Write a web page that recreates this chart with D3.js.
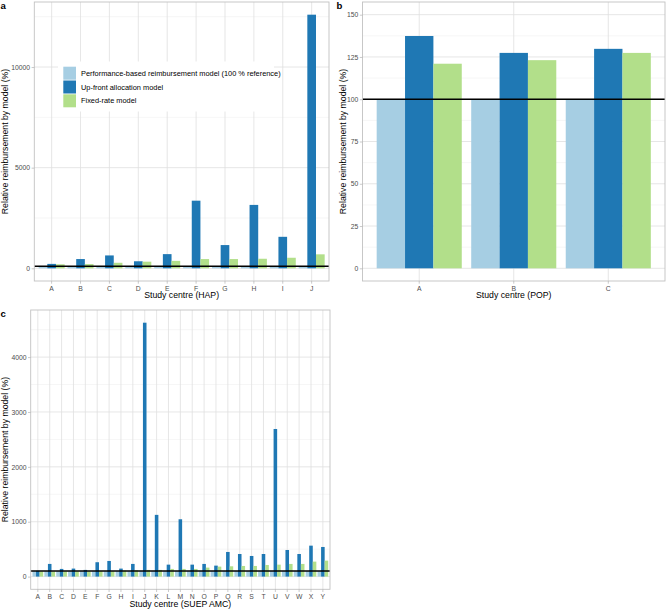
<!DOCTYPE html>
<html>
<head>
<meta charset="utf-8">
<script src="https://cdn.jsdelivr.net/npm/d3@7"></script>
<style>
  html, body { margin: 0; padding: 0; background: #ffffff; }
  svg { display: block; font-family: "Liberation Sans", Arial, Helvetica, sans-serif; }
</style>
</head>
<body>
<svg id="chart" width="668" height="611"></svg>
<script>
// ---------------- DATA ----------------
const seriesNames = [
  "Performance-based reimbursement model (100 % reference)",
  "Up-front allocation model",
  "Fixed-rate model"
];
const seriesColors = ["#A6CEE3", "#1F78B4", "#B2DF8A"];

// Panel a: HAP
const hapCentres = ["A","B","C","D","E","F","G","H","I","J"];
const hapPerformance = [100,100,100,100,100,100,100,100,100,100];
const hapUpfront = [220, 460, 640, 350, 705, 3360, 1155, 3150, 1565, 12600];
const hapFixed   = [200, 210, 275, 330, 370, 460, 460, 475, 525, 695];
const hapTicks = [0, 5000, 10000];

// Panel b: POP
const popCentres = ["A","B","C"];
const popPerformance = [100, 100, 100];
const popUpfront = [137.4, 127.4, 129.8];
const popFixed   = [121.0, 123.1, 127.4];
const popTicks = [0, 25, 50, 75, 100, 125, 150];
const popLimit = 150;

// Panel c: SUEP AMC
const suepCentres = ["A","B","C","D","E","F","G","H","I","J","K","L","M","N","O","P","Q","R","S","T","U","V","W","X","Y"];
const suepPerformance = suepCentres.map(() => 100);
const suepUpfront = [105, 231, 140, 146, 122, 262, 285, 146, 231, 4627, 1125, 218, 1045, 218, 231, 200, 449, 412, 376, 412, 2690, 485, 412, 564, 540];
const suepFixed   = [95, 95, 95, 95, 95, 100, 100, 110, 115, 122, 122, 140, 140, 140, 164, 182, 188, 194, 194, 212, 218, 231, 231, 273, 291];
const suepTicks = [0, 1000, 2000, 3000, 4000];

const referenceLine = 100;

// ---------------- DRAWING ----------------
const svg = d3.select("#chart");
const FONT_TICK = 6.8, FONT_TITLE = 8.7;
const gridMajor = "#E0E0E0", gridMinor = "#EDEDED", borderCol = "#C2C2C2", tickCol = "#B3B3B3";

function drawPanel(opts) {
  const { left, right, top, bottom, cats, series, ticks, maxVal, xTitle, label, labelX, labelY, yTitleX } = opts;
  const g = svg.append("g");
  const lo = -0.05 * maxVal, hi = 1.05 * maxVal;
  const y = d3.scaleLinear().domain([lo, hi]).range([bottom, top]);
  const x = d3.scaleBand().domain(cats).range([left, right]).paddingInner(0.1).paddingOuter(0.15);
  const xs = d3.scaleBand().domain(d3.range(series.length)).range([0, x.bandwidth()]);

  // minor grid
  const step = ticks[1] - ticks[0];
  const minor = [];
  for (let v = ticks[0] - step / 2; v <= hi; v += step) if (v >= lo) minor.push(v);
  g.selectAll(".ymin").data(minor).join("line")
    .attr("x1", left).attr("x2", right)
    .attr("y1", d => y(d)).attr("y2", d => y(d))
    .attr("stroke", gridMinor).attr("stroke-width", 0.5);
  // major grid
  g.selectAll(".ymaj").data(ticks).join("line")
    .attr("x1", left).attr("x2", right)
    .attr("y1", d => y(d)).attr("y2", d => y(d))
    .attr("stroke", gridMajor).attr("stroke-width", 0.8);
  g.selectAll(".xmaj").data(cats).join("line")
    .attr("x1", d => x(d) + x.bandwidth() / 2).attr("x2", d => x(d) + x.bandwidth() / 2)
    .attr("y1", top).attr("y2", bottom)
    .attr("stroke", gridMajor).attr("stroke-width", 0.8);

  const legendLayer = g.append("g");

  // bars
  series.forEach((vals, si) => {
    g.append("g").selectAll("rect").data(cats).join("rect")
      .attr("x", (d) => x(d) + xs(si))
      .attr("width", xs.bandwidth())
      .attr("y", (d, i) => y(Math.max(0, vals[i])))
      .attr("height", (d, i) => Math.abs(y(0) - y(vals[i])))
      .attr("fill", seriesColors[si]);
  });

  // reference line
  g.append("line")
    .attr("x1", left).attr("x2", right)
    .attr("y1", y(referenceLine)).attr("y2", y(referenceLine))
    .attr("stroke", "#000").attr("stroke-width", 1.5);

  // border
  g.append("rect").attr("x", left).attr("y", top)
    .attr("width", right - left).attr("height", bottom - top)
    .attr("fill", "none").attr("stroke", borderCol).attr("stroke-width", 0.9);

  // y axis
  const yAxis = d3.axisLeft(y).tickValues(ticks).tickSize(2.7).tickPadding(1.5).tickFormat(d3.format("d"));
  const ya = g.append("g").attr("transform", `translate(${left},0)`).call(yAxis);
  ya.select(".domain").remove();
  ya.selectAll(".tick line").attr("stroke", tickCol).attr("stroke-width", 0.7);
  ya.selectAll(".tick text").attr("fill", "#4D4D4D").attr("font-size", FONT_TICK).attr("font-family", null);

  // x axis
  const xAxis = d3.axisBottom(x).tickSize(2.7).tickPadding(2.2);
  const xa = g.append("g").attr("transform", `translate(0,${bottom})`).call(xAxis);
  xa.select(".domain").remove();
  xa.selectAll(".tick line").attr("stroke", tickCol).attr("stroke-width", 0.7);
  xa.selectAll(".tick text").attr("fill", "#4D4D4D").attr("font-size", FONT_TICK).attr("font-family", null);

  // titles
  g.append("text").attr("x", (left + right) / 2).attr("y", bottom + 17.3)
    .attr("text-anchor", "middle").attr("font-size", FONT_TITLE).attr("fill", "#000").text(xTitle);
  g.append("text").attr("transform", `translate(${yTitleX},${(top + bottom) / 2}) rotate(-90)`)
    .attr("text-anchor", "middle").attr("font-size", FONT_TITLE).attr("fill", "#000")
    .text("Relative reimbursement by model (%)");
  g.append("text").attr("x", labelX).attr("y", labelY)
    .attr("font-size", 9.6).attr("font-weight", "bold").attr("fill", "#000").text(label);

  return { g, legendLayer };
}

const pa = drawPanel({
  left: 34.3, right: 329, top: 2, bottom: 281,
  cats: hapCentres, series: [hapPerformance, hapUpfront, hapFixed],
  ticks: hapTicks, maxVal: d3.max(hapUpfront),
  xTitle: "Study centre (HAP)", label: "a", labelX: 0.5, labelY: 8.6, yTitleX: 7.6
});

drawPanel({
  left: 362.5, right: 665, top: 2, bottom: 281,
  cats: popCentres, series: [popPerformance, popUpfront, popFixed],
  ticks: popTicks, maxVal: popLimit,
  xTitle: "Study centre (POP)", label: "b", labelX: 336.5, labelY: 8.6, yTitleX: 345.6
});

drawPanel({
  left: 30.7, right: 330, top: 310, bottom: 589.3,
  cats: suepCentres, series: [suepPerformance, suepUpfront, suepFixed],
  ticks: suepTicks, maxVal: d3.max(suepUpfront),
  xTitle: "Study centre (SUEP AMC)", label: "c", labelX: 0.5, labelY: 317.2, yTitleX: 7.6
});

// legend inside panel a
const lg = pa.legendLayer;
lg.append("rect").attr("x", 58).attr("y", 61.5).attr("width", 216).attr("height", 50)
  .attr("fill", "#ffffff");
seriesNames.forEach((name, i) => {
  const ky = 66.7 + i * 13.8;
  lg.append("rect").attr("x", 63.3).attr("y", ky).attr("width", 12.7).attr("height", 13)
    .attr("fill", seriesColors[i]);
  lg.append("text").attr("x", 81).attr("y", ky + 6.5).attr("dy", "0.35em")
    .attr("font-size", 7.4).attr("fill", "#000").text(name);
});
</script>
</body>
</html>
